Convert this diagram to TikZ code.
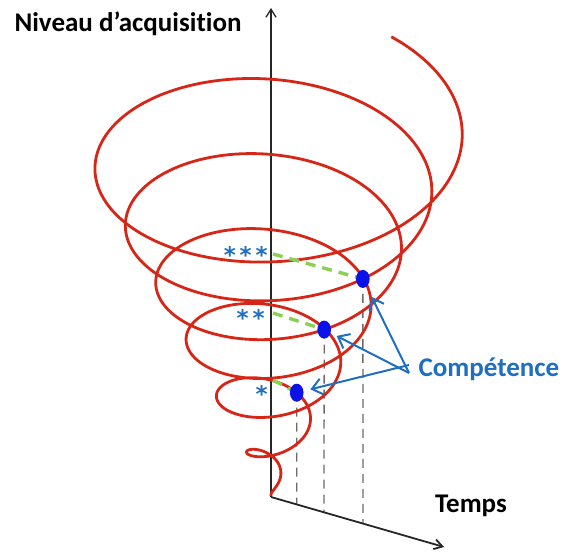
\documentclass[tikz,border=0pt]{standalone}
\usepackage{fontspec}
\setmainfont{Carlito}[Ligatures=NoCommon]
\newfontfamily\starfont{DejaVu Sans}
\usetikzlibrary{arrows.meta}
\definecolor{spiralred}{HTML}{D62618}
\definecolor{dotblue}{HTML}{0B12E8}
\definecolor{labelblue}{HTML}{1F6EC0}
\definecolor{levelgreen}{HTML}{8CCF55}
\definecolor{guidegray}{HTML}{6E6A64}
\tikzset{
  spiral/.style={draw=spiralred,line width=1.4pt},
  axis line/.style={draw=black!85,line width=0.65pt,-{Straight Barb[length=4pt,width=5pt]}},
  guide/.style={draw=guidegray,dash pattern=on 4.5pt off 3pt,line width=0.65pt},
  level dash/.style={draw=levelgreen,dash pattern=on 5pt off 3.5pt,line width=1.7pt},
  skill dot/.style={ellipse,fill=dotblue,minimum width=6.8pt,minimum height=9pt,inner sep=0pt},
  pointer/.style={draw=labelblue,line width=1pt,shorten >=7pt,
    -{Straight Barb[length=5pt,width=8pt]}},
  axis label/.style={font=\bfseries\fontsize{13.5}{16}\selectfont},
  star label/.style={font=\starfont\bfseries\fontsize{11.5}{14}\selectfont,text=labelblue,inner sep=0pt}
}
\usetikzlibrary{shapes.geometric}

\begin{document}
\begin{tikzpicture}[x=0.5pt,y=-0.5pt]
  \useasboundingbox (0,0) rectangle (564,552);
  \coordinate (O) at (271,497);
  \coordinate (ytop) at (271,8);
  \coordinate (xend) at (444,547);
  % points of the spiral where the dots sit
  \foreach \s/\n in {1.15/d1,3.82/d2,4.85/d3}
    \coordinate (\n) at ({271+30.4*(\s+0.29)*cos(360*\s)},
                         {479.5-57*\s-18.24*(\s+0.29)*sin(360*\s)});
  \coordinate (t1) at (296.7,504.5);
  \coordinate (t2) at (324,512.3);
  \coordinate (t3) at (363,523.6);
  \draw[guide] (d1) -- (t1) (d2) -- (t2) (d3) -- (t3);
  \draw[axis line] (O) -- (ytop);
  \draw[axis line,line width=0.9pt] (O) -- (xend);
  \draw[spiral] plot[domain=-0.29:6.15,samples=600,variable=\s,smooth]
    ({271+30.4*(\s+0.29)*cos(360*\s)},{479.5-57*\s-18.24*(\s+0.29)*sin(360*\s)});
  \coordinate (g1) at (273,380);
  \coordinate (g2) at (273,313);
  \coordinate (g3) at (273,254);
  \draw[level dash] (g1) -- (d1) (g2) -- (d2) (g3) -- (d3);
  \foreach \n in {d1,d2,d3} \node[skill dot] at (\n) {};
  \node[star label,anchor=east] (s1) at (268,394) {*};
  \node[star label,anchor=east] (s2) at (265,318) {*\,*};
  \node[star label,anchor=east] (s3) at (268,255) {*\,*\,*};
  \node[axis label] (ylabel) at (128,24) {Niveau d’acquisition};
  \node[axis label] (xlabel) at (471,506) {Temps};
  \node[axis label,text=labelblue] (skill) at (489,369) {Compétence};
  \coordinate (src) at (409,373);
  \draw[pointer,shorten >=10pt] (src) -- (d3);
  \draw[pointer] (src) -- (d2);
  \draw[pointer] ([yshift=4]src) -- (d1);
\end{tikzpicture}
\end{document}
